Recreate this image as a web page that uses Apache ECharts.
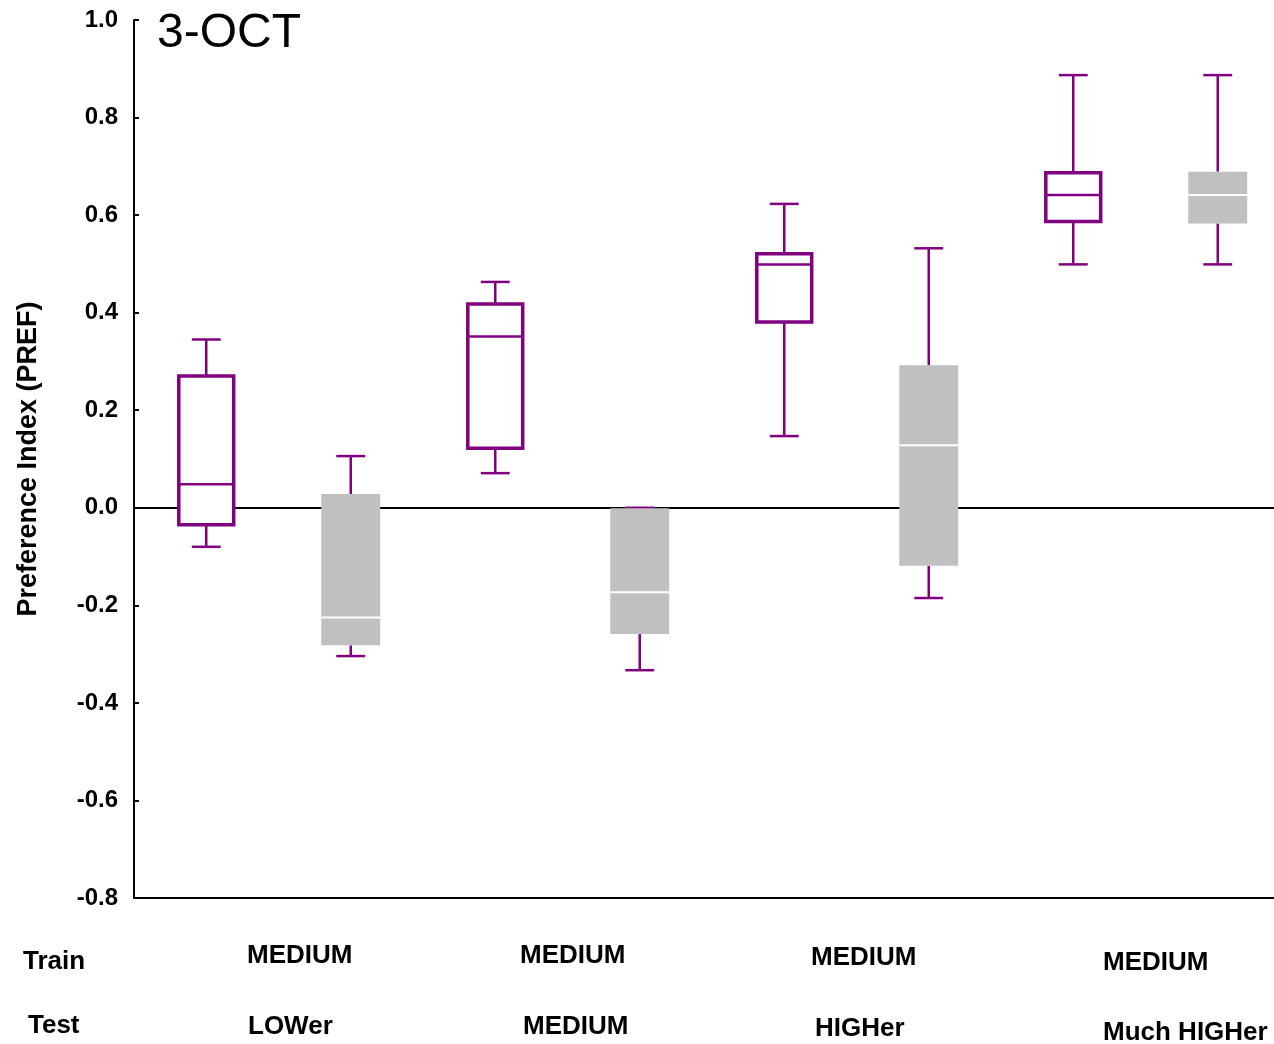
<!DOCTYPE html>
<html>
<head>
<meta charset="utf-8">
<script src="https://cdn.jsdelivr.net/npm/echarts@6/dist/echarts.min.js"></script>
<style>
  html, body { margin: 0; padding: 0; background: #fff; }
  #main { width: 1274px; height: 1044px; }
</style>
</head>
<body>
<div id="main"></div>
<script>
// eight boxes: pairs of (trained odor, test odor) for each test group
var categories = ['LOWer-a', 'LOWer-b', 'MEDIUM-a', 'MEDIUM-b', 'HIGHer-a', 'HIGHer-b', 'MuchHIGHer-a', 'MuchHIGHer-b'];
var boxKind   = ['open', 'filled', 'open', 'filled', 'open', 'filled', 'open', 'filled'];
var boxMin    = [-0.080, -0.304, 0.071, -0.333, 0.147, -0.185, 0.499, 0.499];
var boxQ1     = [-0.035, -0.282, 0.122, -0.259, 0.381, -0.119, 0.587, 0.583];
var boxMedian = [ 0.048, -0.225, 0.351, -0.173, 0.499,  0.128, 0.641, 0.641];
var boxQ3     = [ 0.270,  0.028, 0.418, -0.001, 0.521,  0.292, 0.687, 0.689];
var boxMax    = [ 0.345,  0.106, 0.463,  0.000, 0.623,  0.532, 0.887, 0.887];

var trainTitle = 'Train';
var testTitle = 'Test';
var trainLabels = ['MEDIUM', 'MEDIUM', 'MEDIUM', 'MEDIUM'];
var testLabels = ['LOWer', 'MEDIUM', 'HIGHer', 'Much HIGHer'];
var chartTitle = '3-OCT';

var PURPLE = '#800080';
var GRAY = '#c0c0c0';
var FONT = '"Liberation Sans", Arial, sans-serif';

function buildData(kind) {
    var list = [];
    for (var i = 0; i < categories.length; i++) {
        if (boxKind[i] !== kind) continue;
        list.push([i, boxMin[i], boxQ1[i], boxMedian[i], boxQ3[i], boxMax[i]]);
    }
    return list;
}

function makeRender(kind) {
    return function (params, api) {
        var idx = api.value(0);
        var cx = api.coord([idx, 0])[0];
        var yMin = api.coord([idx, api.value(1)])[1];
        var yQ1 = api.coord([idx, api.value(2)])[1];
        var yMed = api.coord([idx, api.value(3)])[1];
        var yQ3 = api.coord([idx, api.value(4)])[1];
        var yMax = api.coord([idx, api.value(5)])[1];
        var band = api.size([1, 0])[0];
        var half = kind === 'open' ? band * 0.19 : band * 0.204;
        var cap = band * 0.1;
        var wl = { stroke: PURPLE, lineWidth: 2.5 };
        var kids = [
            { type: 'line', shape: { x1: cx, y1: yMax, x2: cx, y2: yQ3 }, style: wl },
            { type: 'line', shape: { x1: cx, y1: yQ1, x2: cx, y2: yMin }, style: wl },
            { type: 'line', shape: { x1: cx - cap, y1: yMax, x2: cx + cap, y2: yMax }, style: wl },
            { type: 'line', shape: { x1: cx - cap, y1: yMin, x2: cx + cap, y2: yMin }, style: wl }
        ];
        if (kind === 'open') {
            kids.push({ type: 'rect', shape: { x: cx - half, y: yQ3, width: half * 2, height: yQ1 - yQ3 },
                        style: { fill: '#fff', stroke: PURPLE, lineWidth: 3.5 } });
            kids.push({ type: 'line', shape: { x1: cx - half, y1: yMed, x2: cx + half, y2: yMed },
                        style: { stroke: PURPLE, lineWidth: 2.5 } });
        } else {
            kids.push({ type: 'rect', shape: { x: cx - half, y: yQ3, width: half * 2, height: yQ1 - yQ3 },
                        style: { fill: GRAY } });
            kids.push({ type: 'line', shape: { x1: cx - half, y1: yMed, x2: cx + half, y2: yMed },
                        style: { stroke: '#fff', lineWidth: 2 } });
        }
        return { type: 'group', children: kids };
    };
}

// bottom label table (Train / Test rows)
var trainPos = [[247, 956], [520, 956], [811, 958], [1103, 963]];
var testPos = [[248, 1027], [523, 1027], [815, 1029], [1103, 1033]];
var graphics = [
    { type: 'text', left: 157, top: 10, style: { text: chartTitle, font: 'normal 48px ' + FONT, fill: '#000' } },
    { type: 'text', x: 23, y: 962, style: { text: trainTitle, font: 'bold 26px ' + FONT, fill: '#000', verticalAlign: 'middle' } },
    { type: 'text', x: 28, y: 1026, style: { text: testTitle, font: 'bold 26px ' + FONT, fill: '#000', verticalAlign: 'middle' } }
];
trainLabels.forEach(function (t, i) {
    graphics.push({ type: 'text', x: trainPos[i][0], y: trainPos[i][1],
        style: { text: t, font: 'bold 26px ' + FONT, fill: '#000', verticalAlign: 'middle' } });
});
testLabels.forEach(function (t, i) {
    graphics.push({ type: 'text', x: testPos[i][0], y: testPos[i][1],
        style: { text: t, font: 'bold 26px ' + FONT, fill: '#000', verticalAlign: 'middle' } });
});

var option = {
    backgroundColor: '#fff',
    animation: false,
    grid: { left: 134, width: 1156, top: 20, bottom: 146, containLabel: false, outerBoundsMode: 'none' },
    xAxis: {
        type: 'category',
        data: categories,
        boundaryGap: true,
        axisLine: { show: true, onZero: false, lineStyle: { color: '#000', width: 2 } },
        axisTick: { show: false },
        axisLabel: { show: false },
        splitLine: { show: false }
    },
    yAxis: {
        type: 'value',
        min: -0.8,
        max: 1.0,
        interval: 0.2,
        name: 'Preference Index (PREF)',
        nameLocation: 'middle',
        nameRotate: 90,
        nameGap: 92,
        nameMoveOverlap: false,
        nameTextStyle: { fontFamily: FONT, fontWeight: 'bold', fontSize: 27, color: '#000' },
        axisLine: { show: true, lineStyle: { color: '#000', width: 2 } },
        axisTick: { show: true, inside: true, length: 5, lineStyle: { color: '#000', width: 2 } },
        axisLabel: {
            margin: 16,
            fontFamily: FONT,
            fontWeight: 'bold',
            fontSize: 24,
            color: '#000',
            lineHeight: 28,
            padding: [5, 0, 0, 0],
            formatter: function (v) { return v.toFixed(1); }
        },
        splitLine: { show: false }
    },
    graphic: graphics,
    series: [
        {
            name: 'open',
            type: 'custom',
            renderItem: makeRender('open'),
            encode: { x: 0, y: [1, 2, 3, 4, 5] },
            data: buildData('open'),
            z: 3,
            markLine: {
                silent: true,
                symbol: 'none',
                label: { show: false },
                lineStyle: { color: '#000', width: 2, type: 'solid' },
                data: [{ yAxis: 0 }],
                z: 1
            }
        },
        {
            name: 'filled',
            type: 'custom',
            renderItem: makeRender('filled'),
            encode: { x: 0, y: [1, 2, 3, 4, 5] },
            data: buildData('filled'),
            z: 3
        }
    ]
};

var myChart = echarts.init(document.getElementById('main'));
myChart.setOption(option);
</script>
</body>
</html>
